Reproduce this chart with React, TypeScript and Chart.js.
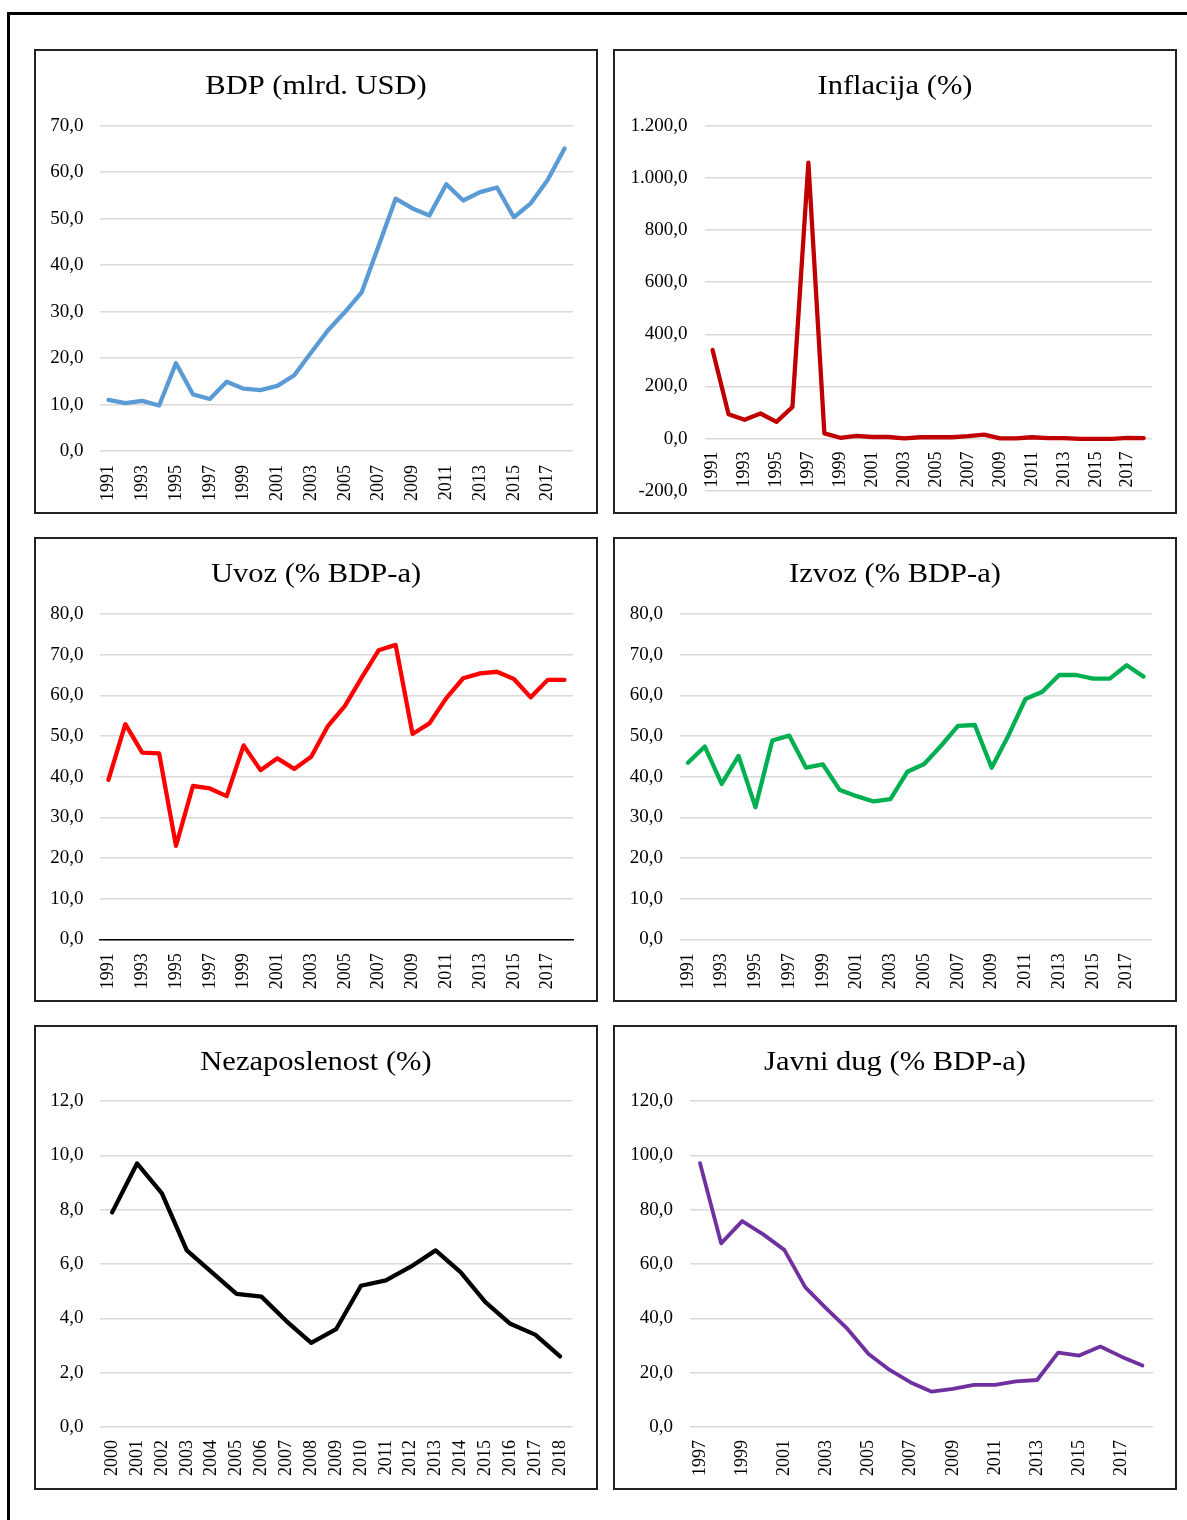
import React, { useEffect, useRef } from "react";
import { Chart, registerables } from "chart.js";

Chart.register(...registerables);

const FONT = "'Liberation Serif', 'Times New Roman', serif";

// ---- categories ----
const years1991 = [
  "1991", "1992", "1993", "1994", "1995", "1996", "1997", "1998", "1999", "2000",
  "2001", "2002", "2003", "2004", "2005", "2006", "2007", "2008", "2009", "2010",
  "2011", "2012", "2013", "2014", "2015", "2016", "2017", "2018",
];
const years2000 = [
  "2000", "2001", "2002", "2003", "2004", "2005", "2006", "2007", "2008", "2009",
  "2010", "2011", "2012", "2013", "2014", "2015", "2016", "2017", "2018",
];
const years1997 = [
  "1997", "1998", "1999", "2000", "2001", "2002", "2003", "2004", "2005", "2006",
  "2007", "2008", "2009", "2010", "2011", "2012", "2013", "2014", "2015", "2016",
  "2017", "2018",
];

// ---- series values ----
const bdp = [
  11.0, 10.3, 10.8, 9.8, 18.9, 12.2, 11.2, 14.9, 13.4, 13.1, 14.0, 16.3, 21.2, 26.0,
  29.9, 34.2, 44.2, 54.3, 52.2, 50.7, 57.4, 53.9, 55.7, 56.7, 50.3, 53.3, 58.3, 65.1,
];
const inflacija = [
  340, 93, 72, 96, 64, 121, 1058, 20, 3, 10, 6, 6, 1, 5, 5, 5, 9, 15, 1, 1, 5, 2, 2,
  -1, -1, -1, 3, 2,
];
const uvoz = [
  39.2, 52.9, 45.9, 45.7, 23.0, 37.7, 37.1, 35.2, 47.7, 41.6, 44.5, 41.9, 44.9, 52.5,
  57.4, 64.4, 71.1, 72.4, 50.5, 53.1, 59.3, 64.2, 65.4, 65.8, 64.0, 59.5, 63.8, 63.8,
];
const izvoz = [
  43.4, 47.4, 38.2, 45.1, 32.5, 48.9, 50.1, 42.2, 43.0, 36.7, 35.2, 33.9, 34.5, 41.2,
  43.1, 47.6, 52.5, 52.7, 42.2, 50.2, 59.1, 60.9, 65.0, 65.0, 64.1, 64.1, 67.4, 64.6,
];
const nezaposlenost = [
  7.9, 9.7, 8.6, 6.5, 5.7, 4.9, 4.8, 3.9, 3.1, 3.6, 5.2, 5.4, 5.9, 6.5, 5.7, 4.6, 3.8,
  3.4, 2.6,
];
const javniDug = [
  97.1, 67.6, 75.8, 70.9, 65.2, 51.4, 43.6, 36.1, 26.9, 21.0, 16.4, 13.0, 14.0, 15.5,
  15.5, 16.8, 17.3, 27.4, 26.3, 29.6, 25.9, 22.6,
];

// ---- titles ----
const titles = [
  "BDP (mlrd. USD)",
  "Inflacija (%)",
  "Uvoz (% BDP-a)",
  "Izvoz (% BDP-a)",
  "Nezaposlenost (%)",
  "Javni dug (% BDP-a)",
];

const PANEL_W = 564;
const PANEL_H = 465;
const BORDER = 2;
const CW = PANEL_W - 2 * BORDER;
const CH = PANEL_H - 2 * BORDER;

type PanelCfg = {
  left: number;
  top: number;
  title: string;
  labels: string[];
  values: number[];
  color: string;
  min: number;
  max: number;
  step: number;
  areaLeft: number;
  areaRight: number;
  areaTop: number;
  areaBottom: number;
  yPad: number;
  xPad: number;
  every2: boolean;
  zeroAxis?: boolean;
  axisLine?: boolean;
  lineWidth?: number;
};

const panels: PanelCfg[] = [
  {
    left: 34, top: 49, title: titles[0], labels: years1991, values: bdp, color: "#5B9BD5",
    min: 0, max: 70, step: 10,
    areaLeft: 64, areaRight: 537, areaTop: 74.7, areaBottom: 400, yPad: 16.6, xPad: 14, every2: true,
  },
  {
    left: 613, top: 49, title: titles[1], labels: years1991, values: inflacija, color: "#C00000",
    min: -200, max: 1200, step: 200,
    areaLeft: 89.6, areaRight: 536.7, areaTop: 74.7, areaBottom: 439.7, yPad: 17.1, xPad: 13, every2: true,
    zeroAxis: true,
  },
  {
    left: 34, top: 537, title: titles[2], labels: years1991, values: uvoz, color: "#FF0000",
    min: 0, max: 80, step: 10,
    areaLeft: 64, areaRight: 537, areaTop: 75, areaBottom: 400.3, yPad: 16.6, xPad: 14, every2: true,
    axisLine: true,
  },
  {
    left: 613, top: 537, title: titles[3], labels: years1991, values: izvoz, color: "#00B050",
    min: 0, max: 80, step: 10,
    areaLeft: 64.5, areaRight: 537, areaTop: 75, areaBottom: 400.3, yPad: 16.4, xPad: 14, every2: true,
  },
  {
    left: 34, top: 1025, title: titles[4], labels: years2000, values: nezaposlenost, color: "#000000",
    min: 0, max: 12, step: 2,
    areaLeft: 63.7, areaRight: 536.5, areaTop: 74, areaBottom: 400, yPad: 16.3, xPad: 13, every2: false,
  },
  {
    left: 613, top: 1025, title: titles[5], labels: years1997, values: javniDug, color: "#7030A0",
    min: 0, max: 120, step: 20,
    areaLeft: 74.5, areaRight: 538, areaTop: 74, areaBottom: 400, yPad: 16.4, xPad: 13, every2: true,
    lineWidth: 3.8,
  },
];

function fmt(v: number): string {
  const neg = v < 0;
  const s = Math.abs(v).toFixed(1);
  const [ip, dp] = s.split(".");
  const withDots = ip.replace(/\B(?=(\d{3})+(?!\d))/g, ".");
  return (neg ? "-" : "") + withDots + "," + dp;
}

const TITLE_SIZE = 28;
const TITLE_BASELINE = 42.5;
const TITLE_STRETCH = 1.09;

const panelTitle = {
  id: "panelTitle",
  afterDraw(chart: any, _args: any, opts: any) {
    const ctx = chart.ctx as CanvasRenderingContext2D;
    ctx.save();
    ctx.font = `normal ${TITLE_SIZE}px ${FONT}`;
    ctx.fillStyle = "#000";
    ctx.textAlign = "center";
    ctx.textBaseline = "alphabetic";
    ctx.translate(chart.width / 2, TITLE_BASELINE);
    ctx.scale(TITLE_STRETCH, 1);
    ctx.fillText(opts.text, 0, 0);
    ctx.restore();
  },
};

function Panel({ cfg }: { cfg: PanelCfg }) {
  const ref = useRef<HTMLCanvasElement>(null);
  useEffect(() => {
    if (!ref.current) return;
    const xHeight = CH - cfg.areaBottom;
    const chart = new Chart(ref.current, {
      type: "line",
      data: {
        labels: cfg.labels,
        datasets: [
          {
            data: cfg.values,
            borderColor: cfg.color,
            backgroundColor: cfg.color,
            borderWidth: cfg.lineWidth ?? 4.3,
            pointRadius: 0,
            pointHoverRadius: 0,
            tension: 0,
            fill: false,
            borderJoinStyle: "round",
            borderCapStyle: "round",
          },
        ],
      },
      plugins: [panelTitle],
      options: {
        animation: false,
        responsive: false,
        maintainAspectRatio: false,
        devicePixelRatio: 1,
        layout: {
          padding: {
            left: 0,
            top: cfg.areaTop,
            right: CW - cfg.areaRight,
            bottom: cfg.zeroAxis ? CH - cfg.areaBottom : 0,
          },
        },
        plugins: {
          legend: { display: false },
          tooltip: { enabled: false },
          title: { display: false },
          panelTitle: { text: cfg.title },
        },
        scales: {
          x: {
            type: "category",
            offset: true,
            position: cfg.zeroAxis ? { y: 0 } : "bottom",
            grid: { display: false, drawTicks: false },
            border: { display: !!cfg.axisLine, color: "#000", width: 1.5 },
            ticks: {
              autoSkip: false,
              minRotation: 90,
              maxRotation: 90,
              padding: cfg.xPad,
              color: "#000",
              font: { family: FONT, size: 18 },
              callback: function (_v: any, i: number) {
                if (cfg.every2 && i % 2 === 1) return "";
                return cfg.labels[i];
              },
            },
            afterFit: (s: any) => {
              if (!cfg.zeroAxis) s.height = xHeight;
              s.paddingLeft = 0;
              s.paddingRight = 0;
            },
          },
          y: {
            type: "linear",
            min: cfg.min,
            max: cfg.max,
            grid: { color: "#D9D9D9", lineWidth: 1.5, drawTicks: false },
            border: { display: false },
            ticks: {
              stepSize: cfg.step,
              padding: cfg.yPad,
              color: "#000",
              font: { family: FONT, size: 19 },
              callback: (v: any) => fmt(Number(v)),
            },
            afterFit: (s: any) => {
              s.width = cfg.areaLeft;
              s.paddingTop = 0;
              s.paddingBottom = 0;
            },
          },
        },
      },
    } as any);
    return () => chart.destroy();
  }, [cfg]);

  return (
    <div
      style={{
        position: "absolute",
        left: cfg.left,
        top: cfg.top,
        width: PANEL_W,
        height: PANEL_H,
        boxSizing: "border-box",
        border: `${BORDER}px solid #222`,
        background: "#fff",
      }}
    >
      <canvas
        ref={ref}
        width={CW}
        height={CH}
        style={{ position: "absolute", left: 0, top: 0, width: CW, height: CH }}
      />
    </div>
  );
}

export default function App() {
  return (
    <div
      style={{
        position: "absolute",
        left: 0,
        top: 0,
        width: 1187,
        height: 1520,
        overflow: "hidden",
        background: "#fff",
      }}
    >
      <div
        style={{
          position: "absolute",
          left: 7,
          top: 12,
          width: 1300,
          height: 1600,
          borderTop: "3px solid #000",
          borderLeft: "3px solid #000",
        }}
      />
      {panels.map((p, i) => (
        <Panel key={i} cfg={p} />
      ))}
    </div>
  );
}
